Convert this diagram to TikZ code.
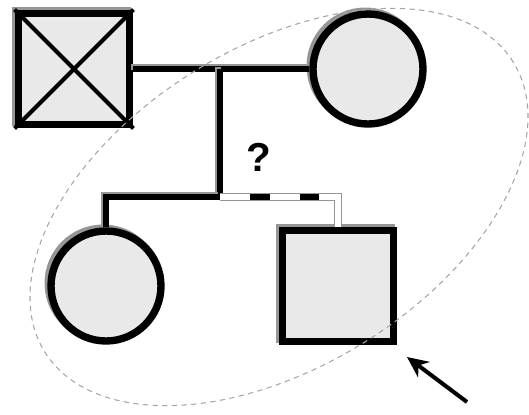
\documentclass[tikz,border=0pt]{standalone}
\usepackage{fontspec}
\setsansfont{Liberation Sans}
\usetikzlibrary{arrows.meta,positioning,shadows}
\definecolor{indfill}{RGB}{233,233,233}
\definecolor{shade}{RGB}{150,150,150}
\definecolor{ringgray}{RGB}{165,165,165}
\tikzset{
  >=Stealth,
  person/.style    = {draw, line width=4.2pt, fill=indfill, inner sep=0pt, drop shadow={shadow xshift=-1.6pt, shadow yshift=1.6pt, fill=shade, draw=shade, line width=4.2pt, opacity=1}},
  male/.style      = {person, rectangle, minimum size=2.23cm},
  female/.style    = {person, circle, minimum size=2.2cm},
  line/.style      = {line width=3.8pt, preaction={draw=shade, line width=3.8pt, transform canvas={xshift=-1.2pt, yshift=1.2pt}}},
  unsure/.style    = {line width=4.4pt, draw=shade},
  proband/.style   = {->, line width=2.3pt, arrows={-Stealth[length=12pt, width=11pt]}},
  ring/.style      = {draw=ringgray, dashed, dash pattern=on 3pt off 2.5pt, line width=0.6pt}
}
\begin{document}
\begin{tikzpicture}[x=0.02cm, y=-0.02cm]
\useasboundingbox (0,0) rectangle (529,414);

% Parents
\node[male] (father) at (74,69) {};
\node[female] (mother) at (368,69) {};
\draw[line width=2.3pt] (father.north west) -- (father.south east);
\draw[line width=2.3pt] (father.south west) -- (father.north east);

% Children
\node[female] (sister) at (106,286) {};
\node[male] (index) at (338,286) {};

% Junctions
\coordinate (m) at (220,69);
\coordinate (sib) at (220,197);
\coordinate (corner) at (338,197);

% Connections
\draw[line] (father) -- (mother);
\draw[line] (m) -- (sib);
\draw[line] (sister.north) |- (sib);
\draw[unsure] (sib) -- (corner) -- (index.north);
\draw[white, line width=3.4pt] (sib) -- (corner) -- (index.north);
\draw[line width=3.4pt, dash pattern=on 11.3pt off 17pt, dash phase=11.3pt] (sib) -- (corner);

\node[font=\sffamily\bfseries\fontsize{23}{25}\selectfont] (q) at (259,157) {?};

% Proband arrow
\coordinate (tail) at (467,402);
\coordinate (tip) at (407,357);
\draw[proband] (tail) -- (tip);

% Circle of the family
\coordinate (ctr) at (279,207);
\draw[ring, rotate around={31.7:(ctr)}] (ctr) ellipse [x radius=5.51cm, y radius=3.2cm];

\end{tikzpicture}
\end{document}
